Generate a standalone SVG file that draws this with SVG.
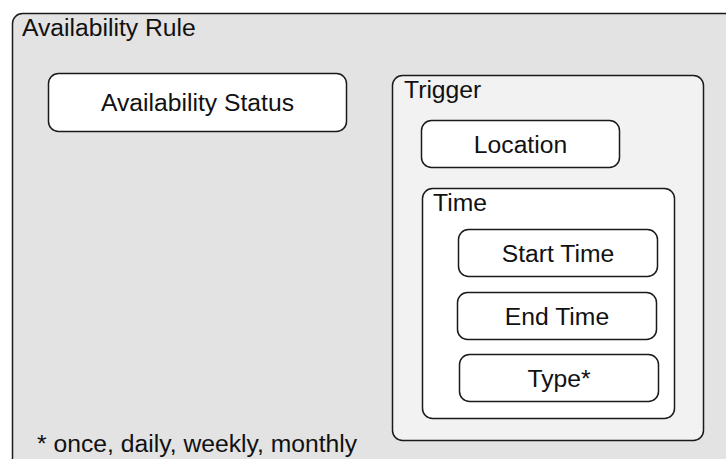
<svg xmlns="http://www.w3.org/2000/svg" width="726" height="459" viewBox="0 0 726 459">
  <style>
    .box { stroke: #1a1a1a; stroke-width: 1.5; }
    .lbl { font-family: "Liberation Sans", Arial, sans-serif; font-size: 24.7px; fill: #111; }
    .mid { text-anchor: middle; }
  </style>
  <rect width="726" height="459" fill="#ffffff"/>

  <!-- outer container, runs off the right and bottom edges -->
  <g id="availability-rule">
    <rect class="box" x="12.5" y="13.5" width="800" height="500" rx="10" fill="#e3e3e3"/>
    <text class="lbl" x="22" y="36">Availability Rule</text>
  </g>

  <g id="availability-status">
    <rect class="box" x="48.5" y="73.5" width="298" height="58" rx="10" fill="#ffffff"/>
    <text class="lbl mid" x="197.5" y="111">Availability Status</text>
  </g>

  <g id="trigger">
    <rect class="box" x="392.5" y="75.5" width="311" height="365" rx="10" fill="#f2f2f2"/>
    <text class="lbl" x="404" y="98">Trigger</text>
  </g>

  <g id="location">
    <rect class="box" x="421.5" y="120.5" width="198" height="47" rx="10" fill="#ffffff"/>
    <text class="lbl mid" x="520.5" y="152.5">Location</text>
  </g>

  <g id="time">
    <rect class="box" x="422.5" y="188.5" width="252" height="230" rx="10" fill="#ffffff"/>
    <text class="lbl" x="433" y="211">Time</text>
  </g>

  <g id="start-time">
    <rect class="box" x="458.5" y="229.5" width="199" height="47" rx="10" fill="#ffffff"/>
    <text class="lbl mid" x="558" y="261.5">Start Time</text>
  </g>

  <g id="end-time">
    <rect class="box" x="457.5" y="292.5" width="199" height="47" rx="10" fill="#ffffff"/>
    <text class="lbl mid" x="557" y="324.5">End Time</text>
  </g>

  <g id="type">
    <rect class="box" x="459.5" y="354.5" width="199" height="47" rx="10" fill="#ffffff"/>
    <text class="lbl mid" x="559" y="386.5">Type*</text>
  </g>

  <g id="connectors"></g>

  <text class="lbl" x="37" y="452">* once, daily, weekly, monthly</text>
</svg>
